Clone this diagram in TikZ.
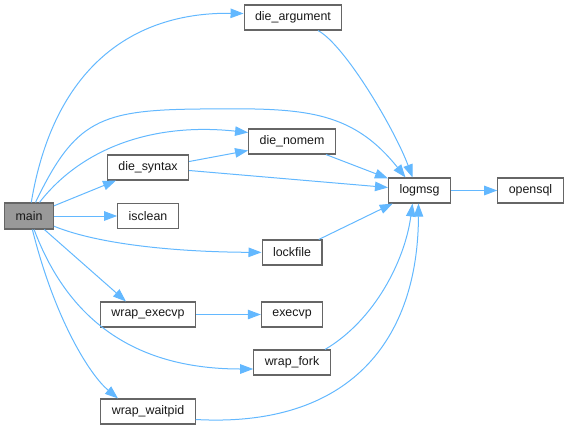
\documentclass[tikz,border=0pt]{standalone}
\usepackage{fontspec}
\setmainfont{Liberation Sans}
\usetikzlibrary{arrows.meta}
\definecolor{cgedge}{HTML}{63B8FF}
\definecolor{cgframe}{HTML}{666666}
\definecolor{cgroot}{HTML}{999999}
\tikzset{
  fn/.style   = {rectangle, draw=cgframe, line width=1.1pt, fill=white,
                 minimum height=25pt, inner xsep=11pt, inner ysep=0pt,
                 font=\fontsize{12.4}{14}\selectfont, text=black!90},
  root/.style = {fn, fill=cgroot, minimum height=26pt},
  ed/.style   = {-{Triangle[length=13pt,width=9.5pt]}, draw=cgedge,
                 line width=1pt},
}
\begin{document}
\begin{tikzpicture}[x=1pt,y=-1pt]
  \useasboundingbox (0,0) rectangle (569,431);
  % --- functions
  \node[root] (main) at (29,216) {main};
  \node[fn] (dieargument) at (293,17.5) {die\_argument};
  \node[fn] (dienomem) at (292,141.5) {die\_nomem};
  \node[fn] (diesyntax) at (148,167.5) {die\_syntax};
  \node[fn] (isclean) at (148,216) {isclean};
  \node[fn] (logmsg) at (419.5,190.5) {logmsg};
  \node[fn] (opensql) at (530.5,190.5) {opensql};
  \node[fn] (lockfile) at (292,252.5) {lockfile};
  \node[fn] (wrapexecvp) at (148,314.5) {wrap\_execvp};
  \node[fn] (execvp) at (292,314.5) {execvp};
  \node[fn] (wrapfork) at (292,362.5) {wrap\_fork};
  \node[fn] (wrapwaitpid) at (148,411.5) {wrap\_waitpid};

  % --- calls from main
  \draw[ed] (main) .. controls (55,60) and (140,12) .. ([yshift=4pt]dieargument.west);
  \draw[ed] (main) .. controls (75,120) and (100,110) .. (200,109)
            .. controls (300,108) and (350,108) .. ([xshift=-14pt]logmsg.north);
  \draw[ed] (main) .. controls (80,150) and (150,122) .. ([yshift=9pt]dienomem.west);
  \draw[ed] (main) -- (diesyntax);
  \draw[ed] (main) -- (isclean);
  \draw[ed] (main) .. controls (100,245) and (180,252) .. (lockfile);
  \draw[ed] (main) -- ([xshift=-22pt]wrapexecvp.north);
  \draw[ed] (main) .. controls (70,325) and (140,369) .. ([yshift=-6.5pt]wrapfork.west);
  \draw[ed] (main) .. controls (55,320) and (90,375) .. ([xshift=-30pt]wrapwaitpid.north);

  % --- calls into logmsg
  \draw[ed] ([xshift=25pt]dieargument.south) .. controls (345,45) and (395,130)
            .. ([xshift=-7pt]logmsg.north);
  \draw[ed] ([yshift=6pt]diesyntax.east) -- ([yshift=-9pt]dienomem.west);
  \draw[ed] ([yshift=-3pt]diesyntax.east) -- ([yshift=3pt]logmsg.west);
  \draw[ed] (dienomem) -- (logmsg);
  \draw[ed] (lockfile) -- (logmsg);
  \draw[ed] ([xshift=33pt]wrapfork.north) .. controls (375,320) and (405,260)
            .. ([xshift=-7pt]logmsg.south);
  \draw[ed] ([yshift=-8pt]wrapwaitpid.east) .. controls (350,428) and (418,340)
            .. ([xshift=-1pt]logmsg.south);
  \draw[ed] (logmsg) -- (opensql);
  \draw[ed] (wrapexecvp) -- (execvp);
\end{tikzpicture}
\end{document}
